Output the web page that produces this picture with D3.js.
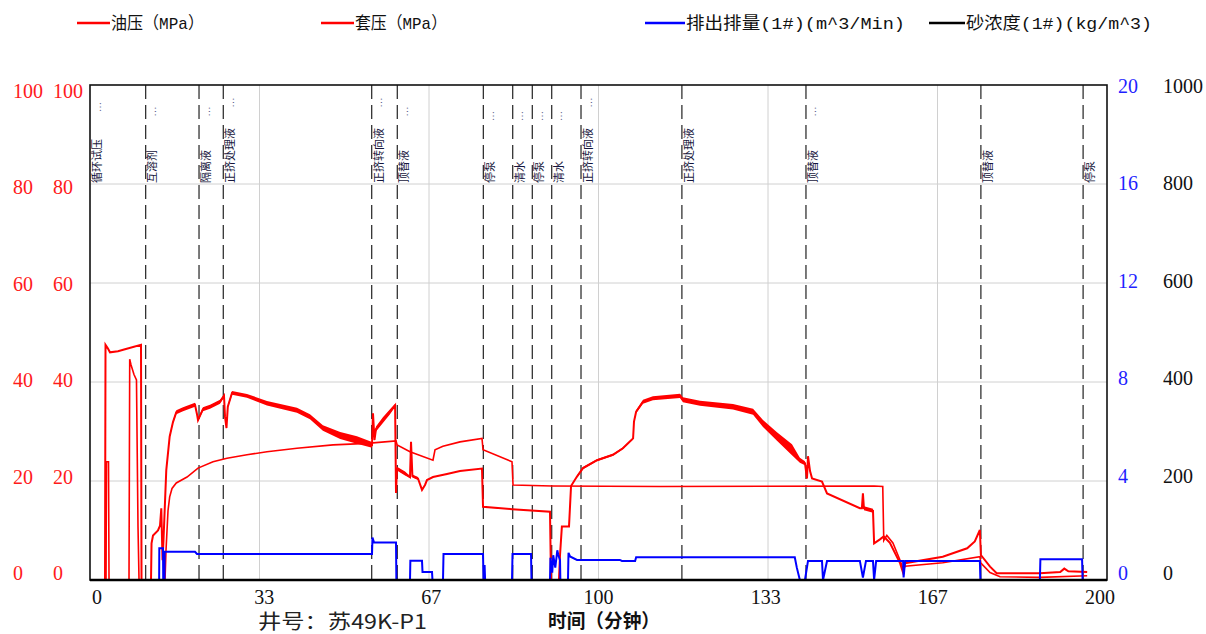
<!DOCTYPE html>
<html>
<head>
<meta charset="utf-8">
<script src="https://cdn.jsdelivr.net/npm/d3@7"></script>
<style>
  body { margin: 0; background: #fff; }
  svg { display: block; }
</style>
</head>
<body>
<svg id="chart" width="1206" height="634"></svg>
<script>
// ---- data (time in minutes) ----
const tubingT = [0, 2.95, 3.05, 3.5, 3.93, 5.5, 6.88, 10.03, 10.13, 12.0, 12.1, 12.39, 13.37, 13.77, 14.02, 14.26, 14.45, 15.0,
  15.67, 16.32, 16.97, 18.29, 20.65, 21.04, 21.24, 22.2, 23.6, 25.57, 26.35, 26.55, 26.84, 27.1, 27.93, 30.87, 34.8, 40.7,
  43.26, 45.8, 49.2, 52.5, 55.46, 55.65, 55.95, 56.24, 57.6, 59.0, 60.0, 60.18, 60.37, 61.95, 62.93, 63.13, 63.4, 64.5,
  65.29, 65.88, 66.27, 67.45, 70.2, 72.76, 77.09, 77.29, 83.0, 90.46, 90.66, 92.23, 92.43, 92.8, 94.2, 94.6, 95.77, 96.95,
  99.7, 102.85, 104.8, 106.8, 106.98, 107.4, 108.75, 110.7, 116.03, 116.6, 119.96, 126.45, 130.4, 132.35, 135.1, 138.05,
  139.6, 140.6, 141.0, 141.2, 141.6, 142.0, 143.95, 144.94, 151.4, 151.8, 152.0, 152.2, 153.98, 154.2, 155.35, 156.1, 157.3,
  159.3, 159.9, 160.3, 167.7, 172.5, 174.0, 175.0, 175.2, 177.0, 178.3, 186.8, 190.8, 191.6, 192.4, 196.1];
const tubingV = [0, 0, 47.5, 46.8, 46, 46.2, 46.6, 47.5, 0, 0, 7.4, 9, 10, 11, 14.5, 4, 8, 22.2,
  29, 31.9, 33.9, 34.5, 35.4, 33.5, 32.3, 34.5, 35, 36, 37.2, 33, 30.7, 35, 37.8, 37.2, 35.7, 34.3,
  33, 30.7, 29.2, 28.3, 27.3, 33.7, 28.3, 30.5, 32.3, 34, 35.3, 17.6, 22.5, 21.5, 20.8, 27.9, 21, 20.5,
  18.2, 19.2, 20.2, 20.8, 21.4, 22, 22.5, 14.8, 14.3, 13.8, 0, 0, 5, 10.8, 10.8, 19, 20.9, 22.6,
  24.2, 25.3, 26.6, 28.6, 32, 34, 36, 36.7, 37.2, 36.4, 35.7, 35, 34, 31.6, 29, 26.3,
  24.2, 23.6, 20.5, 25, 22, 20.5, 19.9, 17.5, 14.5, 14.5, 17.5, 14.5, 14, 7.4, 8.2, 8.8, 7.5,
  3.4, 1.5, 3.4, 4.7, 6.4, 7.8, 10.1, 5.05, 2.7, 1.35, 1.35, 1.6, 2.3, 1.75, 1.6];
// half-width of the fluctuation band around the tubing pressure (0 = steady reading)
const tubingSpread = [0, 0, 0, 0, 0, 0, 0, 0, 0, 0, 0, 0, 0, 0, 0, 0, 0, 0,
  0.3, 0.3, 0.4, 0.4, 0.4, 0.3, 0.3, 0.4, 0.4, 0.4, 0.3, 0.2, 0.2, 0.3, 0.4, 0.4, 0.45, 0.5,
  0.5, 0.55, 0.7, 0.75, 0.6, 0.2, 0.3, 0.5, 0.6, 0.5, 0.3, 0, 0.4, 0.4, 0.2, 0, 0.3, 0.3,
  0, 0, 0, 0, 0, 0, 0, 0, 0, 0, 0, 0, 0, 0, 0, 0, 0.2, 0.25,
  0.2, 0.2, 0.2, 0.2, 0, 0.3, 0.4, 0.4, 0.45, 0.5, 0.5, 0.55, 0.6, 0.7, 0.85, 1.1,
  0.5, 0.4, 0, 0, 0, 0, 0, 0, 0, 0, 0, 0.4, 0.4, 0, 0, 0, 0,
  0, 0, 0, 0, 0, 0, 0, 0, 0, 0, 0, 0, 0, 0, 0];

const casingT = [0, 3.15, 3.24, 3.64, 3.74, 7.67, 7.81, 8.06, 8.65, 9.14, 9.44, 9.64, 14.75, 14.95, 15.34, 15.67, 16.13,
  16.97, 19.08, 21.24, 24.19, 26.94, 30.87, 34.8, 40.7, 47.8, 54.5, 60.18, 60.4, 62.93, 67.45, 67.85, 69.4, 72.76, 77.09,
  77.29, 82.99, 83.19, 90.86, 112.1, 154.2, 155.9, 156.1, 156.7, 157.9, 159.3, 159.9, 160.3, 167.7, 175.0, 175.2, 177.0,
  178.96, 186.8, 196.1];
const casingV = [0, 0, 23.9, 23.9, 0, 0, 44.6, 43.5, 41.5, 40.4, 10.8, 0, 0, 6, 14, 16.8, 18.5,
  19.6, 20.8, 22.6, 23.9, 24.6, 25.3, 25.9, 26.6, 27.3, 27.6, 28.1, 27.3, 25.9, 24.2, 26.3, 27.0, 27.9, 28.6,
  26.3, 23.9, 19.2, 19.0, 18.9, 19.0, 18.9, 8.0, 9.0, 7.5, 4.0, 2.2, 2.8, 3.5, 4.7, 3.4, 1.5,
  0.67, 0.54, 0.87];

const rateT = [0, 13.6, 13.63, 14.36, 14.4, 14.65, 14.69, 20.65, 21.04, 55.46, 55.55, 55.85, 60.18, 60.25, 62.93, 63.0,
  65.29, 65.39, 67.26, 67.35, 69.42, 69.52, 77.29, 77.39, 77.6, 77.7, 82.99, 83.09, 86.73, 86.82, 90.46, 90.55, 90.9,
  91.1, 91.5, 91.9, 92.1, 92.43, 92.5, 94.0, 94.1, 94.4, 95.77, 104.2, 104.6, 107.2, 107.4, 138.6, 139.0, 139.6, 140.6,
  141.2, 143.95, 144.15, 144.94, 151.4, 152.0, 152.6, 153.98, 154.2, 154.6, 159.9, 160.0, 160.3, 175.0, 175.1, 186.8,
  186.9, 195.1, 195.2];
const rateV = [0, 0, 1.28, 1.28, 0, 0, 1.14, 1.14, 1.05, 1.05, 1.72, 1.52, 1.52, 0, 0, 0.78,
  0.78, 0.32, 0.32, 0, 0, 1.05, 1.05, 0, 0.6, 0, 0, 1.05, 1.05, 0, 0, 0.9, 0.3,
  1.0, 0.5, 1.2, 1.01, 0.8, 0, 0, 1.1, 0.95, 0.81, 0.81, 0.77, 0.77, 0.92, 0.92, 0.5, 0, 0,
  0.77, 0.77, 0, 0.77, 0.77, 0.1, 0.77, 0.77, 0, 0.77, 0.77, 0.1, 0.77, 0.77, 0, 0,
  0.84, 0.84, 0];

const sandT = [0, 196.1];
const sandV = [0, 0];

const eventT = [0, 10.95, 21.44, 26.21, 55.4, 60.43, 77.35, 83.13, 86.98, 90.8, 96.56, 116.4, 140.8, 175.2, 195.3];
const eventLabels = ["循环试压", "互溶剂", "隔离液", "正挤处理液", "正挤转向液", "顶替液", "停泵", "清水", "停泵", "清水",
  "正挤转向液", "正挤处理液", "顶替液", "顶替液", "停泵"];
const eventTruncated = [true, true, true, true, true, true, true, true, true, true, true, false, true, false, false];

const pressureTicks = [0, 20, 40, 60, 80, 100];
const rateTicks = [0, 4, 8, 12, 16, 20];
const sandTicks = [0, 200, 400, 600, 800, 1000];
const timeTicks = [0, 100 / 3, 200 / 3, 100, 400 / 3, 500 / 3, 200];
const timeTickLabels = ["0", "33", "67", "100", "133", "167", "200"];
const gridPressure = [20, 40, 60, 80];

const legendLabels = ["油压（MPa）", "套压（MPa）", "排出排量(1#)(m^3/Min)", "砂浓度(1#)(kg/m^3)"];
const legendColors = ["#ff0000", "#ff0000", "#0000ff", "#000000"];
const wellName = "井号：苏49K-P1";
const timeTitle = "时间（分钟）";

// ---- layout ----
const svg = d3.select("#chart");
const plot = { left: 90, right: 1107, top: 85, bottom: 580 };

const x = d3.scaleLinear().domain([0, 200]).range([plot.left, plot.right]);
const yP = d3.scaleLinear().domain([0, 100]).range([plot.bottom, plot.top]);
const yR = d3.scaleLinear().domain([0, 20]).range([plot.bottom, plot.top]);
const yS = d3.scaleLinear().domain([0, 1000]).range([plot.bottom, plot.top]);

// tick-label placement scales (labels sit slightly inside the frame)
const xLab = d3.scaleLinear().domain([0, 200]).range([97, 1100]);
const yLabL = d3.scaleLinear().domain([0, 100]).range([573, 91]);
const yLabR = d3.scaleLinear().domain([0, 20]).range([573, 86]);

const serif = "'Liberation Serif', 'Noto Sans CJK SC', serif";
const mono = "'Liberation Mono', 'Noto Sans CJK SC', monospace";
const cjk = "'Noto Sans CJK SC', 'Noto Sans', sans-serif";

// grid
const grid = svg.append("g").attr("stroke", "#d0d0d0").attr("stroke-width", 1);
grid.selectAll("line.v").data(timeTicks.slice(1, -1)).join("line")
  .attr("x1", d => x(d)).attr("x2", d => x(d))
  .attr("y1", plot.top).attr("y2", plot.bottom);
grid.selectAll("line.h").data(gridPressure).join("line")
  .attr("x1", plot.left).attr("x2", plot.right)
  .attr("y1", d => yP(d)).attr("y2", d => yP(d));

// stage markers
const ev = svg.append("g");
ev.selectAll("line").data(eventT.filter(t => t > 0)).join("line")
  .attr("x1", d => x(d)).attr("x2", d => x(d))
  .attr("y1", plot.top).attr("y2", plot.bottom)
  .attr("stroke", "#222").attr("stroke-width", 1.2)
  .attr("stroke-dasharray", "14,6");

const evLab = ev.selectAll("g.lab").data(eventT.map((t, i) => ({ t, label: eventLabels[i], more: eventTruncated[i] })))
  .join("g");
evLab.append("text")
  .attr("transform", d => `translate(${x(d.t) + 10.8},183) rotate(-90)`)
  .attr("font-family", cjk).attr("font-size", 11).attr("fill", "#16163c")
  .text(d => d.label);
evLab.filter(d => d.more).append("text")
  .attr("transform", d => `translate(${x(d.t) + 10.5},${125 - 4.5 * d.label.length}) rotate(-90)`)
  .attr("text-anchor", "middle")
  .attr("font-family", serif).attr("font-size", 10).attr("fill", "#5a5a8a")
  .text("…");

// series
const pts = (ts, vs) => ts.map((t, i) => ({ t, v: vs[i] }));
const lineP = d3.line().x(d => x(d.t)).y(d => yP(d.v));
const lineR = d3.line().x(d => x(d.t)).y(d => yR(d.v));
const lineS = d3.line().x(d => x(d.t)).y(d => yS(d.v));

const tubing = tubingT.map((t, i) => ({ t, v: tubingV[i], s: tubingSpread[i] }));
svg.append("path")
  .datum(tubing)
  .attr("d", d3.area().defined(d => d.s > 0)
    .x(d => x(d.t)).y0(d => yP(d.v - d.s)).y1(d => yP(d.v + d.s)))
  .attr("fill", "#ff0000");

svg.append("path").datum(pts(casingT, casingV)).attr("d", lineP)
  .attr("fill", "none").attr("stroke", "#ff0000").attr("stroke-width", 1.6);
svg.append("path").datum(tubing).attr("d", lineP)
  .attr("fill", "none").attr("stroke", "#ff0000").attr("stroke-width", 2);
svg.append("path").datum(pts(rateT, rateV)).attr("d", lineR)
  .attr("fill", "none").attr("stroke", "#0000ff").attr("stroke-width", 2);
svg.append("path").datum(pts(sandT, sandV)).attr("d", lineS)
  .attr("fill", "none").attr("stroke", "#000").attr("stroke-width", 2);

// frame
svg.append("rect")
  .attr("x", plot.left).attr("y", plot.top)
  .attr("width", plot.right - plot.left).attr("height", plot.bottom - plot.top)
  .attr("fill", "none").attr("stroke", "#111").attr("stroke-width", 1.6);
svg.append("line").attr("x1", plot.left).attr("x2", plot.right)
  .attr("y1", plot.bottom).attr("y2", plot.bottom)
  .attr("stroke", "#000").attr("stroke-width", 2.6);

// left axes (two pressure scales)
[13, 53].forEach(cx => {
  svg.append("g").selectAll("text").data(pressureTicks).join("text")
    .attr("x", cx).attr("y", d => yLabL(d)).attr("dy", "0.35em")
    .attr("font-family", serif).attr("font-size", 20).attr("fill", "#ff1a1a")
    .text(d => d);
});
// right axes
svg.append("g").selectAll("text").data(rateTicks).join("text")
  .attr("x", 1118).attr("y", d => yLabR(d)).attr("dy", "0.35em")
  .attr("font-family", serif).attr("font-size", 20).attr("fill", "#1f1fff")
  .text(d => d);
svg.append("g").selectAll("text").data(sandTicks).join("text")
  .attr("x", 1163).attr("y", (d, i) => yLabR(rateTicks[i])).attr("dy", "0.35em")
  .attr("font-family", serif).attr("font-size", 20).attr("fill", "#111")
  .text(d => d);

// bottom axis labels
svg.append("g").selectAll("text").data(timeTicks).join("text")
  .attr("x", d => xLab(d)).attr("y", 604)
  .attr("text-anchor", "middle")
  .attr("font-family", serif).attr("font-size", 20).attr("fill", "#111")
  .text((d, i) => timeTickLabels[i]);

svg.append("text").attr("x", 258).attr("y", 629)
  .attr("font-family", cjk).attr("font-size", 20).attr("fill", "#222")
  .attr("textLength", 169).attr("lengthAdjust", "spacingAndGlyphs")
  .text(wellName);
svg.append("text").attr("x", 548).attr("y", 628)
  .attr("font-family", cjk).attr("font-size", 19).attr("font-weight", "bold").attr("fill", "#111")
  .attr("textLength", 112).attr("lengthAdjust", "spacingAndGlyphs")
  .text(timeTitle);

// legend
const legendX = [77, 321, 645, 929];
const legendW = [33, 33, 40, 36];
const legendTextW = [93, 92, 219, 186];
const lg = svg.append("g");
legendLabels.forEach((lab, i) => {
  lg.append("line").attr("x1", legendX[i]).attr("x2", legendX[i] + legendW[i])
    .attr("y1", 23).attr("y2", 23)
    .attr("stroke", legendColors[i]).attr("stroke-width", 2.6);
  lg.append("text").attr("x", legendX[i] + legendW[i] + 1).attr("y", 29)
    .attr("font-family", mono).attr("font-size", 17).attr("fill", "#111")
    .attr("textLength", legendTextW[i]).attr("lengthAdjust", "spacingAndGlyphs")
    .text(lab);
});
</script>
</body>
</html>
